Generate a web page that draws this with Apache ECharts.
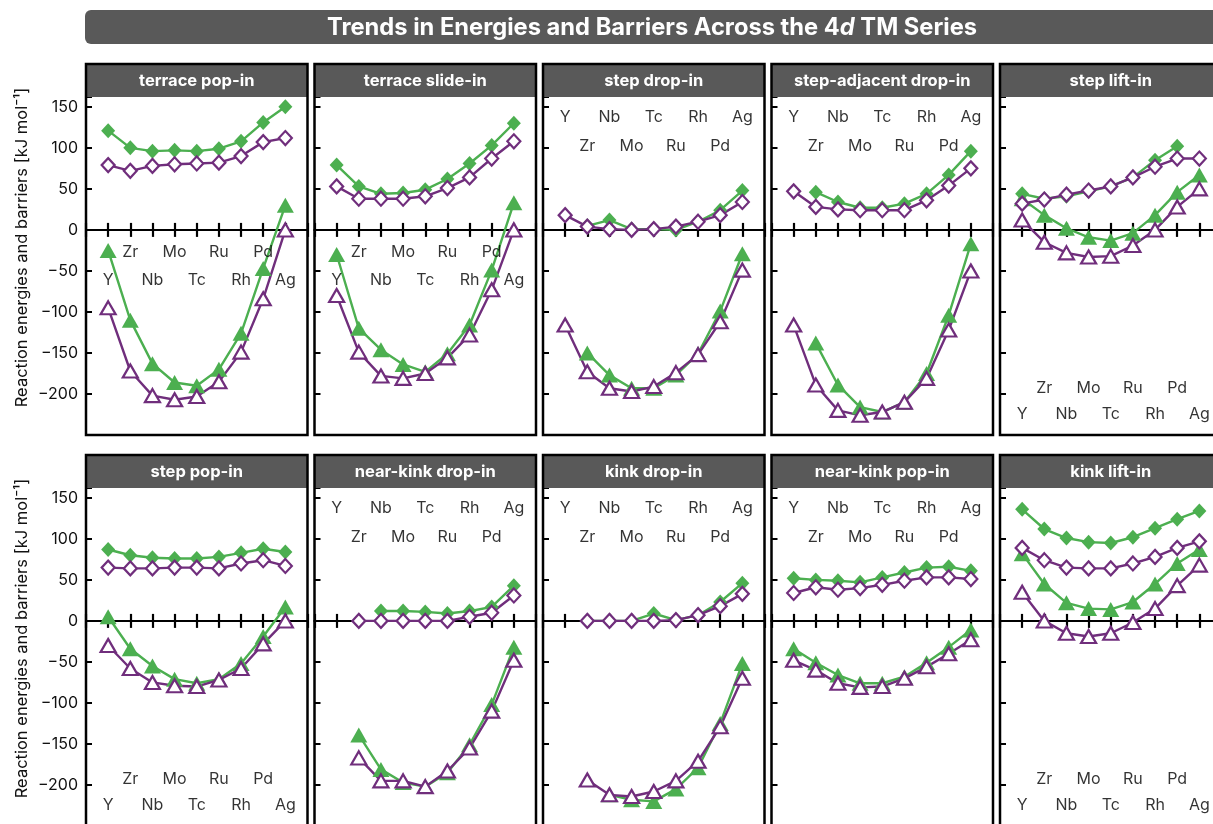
<!DOCTYPE html>
<html>
<head>
<meta charset="utf-8">
<script src="https://cdn.jsdelivr.net/npm/echarts@6/dist/echarts.min.js"></script>
<style>
  html, body { margin: 0; padding: 0; background: #ffffff; }
  #chart { width: 1213px; height: 824px; }
</style>
</head>
<body>
<div id="chart"></div>
<script>
// 4d transition metals along the x axis
const elements = ['Y', 'Zr', 'Nb', 'Mo', 'Tc', 'Ru', 'Rh', 'Pd', 'Ag'];

// One panel per insertion mechanism (row-major, 5 per row)
const panelTitles = [
  'terrace pop-in', 'terrace slide-in', 'step drop-in', 'step-adjacent drop-in', 'step lift-in',
  'step pop-in', 'near-kink drop-in', 'kink drop-in', 'near-kink pop-in', 'kink lift-in'
];

// y-axis tick values (kJ/mol)
const yTickValues = [-200, -150, -100, -50, 0, 50, 100, 150];

// Barriers, green filled diamonds (one row per panel, Y..Ag)
const barrierGreen = [
  [121, 100, 96, 97, 96, 99, 108, 131, 150],
  [79, 53, 44, 45, 49, 62, 81, 103, 130],
  [null, 5, 12, 1, 1, 0, 10, 24, 48],
  [null, 46, 34, 27, 27, 32, 44, 67, 96],
  [44, 38, 41, 47, 53, 64, 85, 102, null],
  [87, 80, 77, 76, 76, 78, 83, 88, 84],
  [null, null, 12, 12, 11, 9, 12, 17, 43],
  [null, 0, 0, 0, 9, 1, 7, 23, 46],
  [52, 50, 49, 47, 53, 59, 65, 66, 61],
  [136, 112, 101, 96, 95, 102, 113, 124, 134]
];

// Barriers, purple open diamonds
const barrierPurple = [
  [79, 72, 78, 80, 81, 82, 90, 107, 112],
  [53, 38, 38, 38, 41, 51, 64, 87, 108],
  [18, 4, 1, 0, 1, 4, 10, 18, 34],
  [47, 28, 25, 24, 24, 24, 36, 54, 75],
  [32, 37, 43, 48, 53, 64, 77, 87, 87],
  [65, 64, 64, 65, 65, 64, 70, 74, 67],
  [null, 0, 0, 0, 0, 0, 5, 10, 31],
  [null, 0, 0, 0, 0, 1, 7, 18, 33],
  [34, 41, 38, 40, 44, 49, 53, 53, 51],
  [89, 74, 65, 64, 64, 70, 78, 89, 97]
];

// Reaction energies, green filled triangles
const energyGreen = [
  [-25, -110, -163, -186, -190, -170, -126, -47, 30],
  [-30, -120, -146, -164, -173, -151, -116, -49, 33],
  [null, -150, -177, -193, -193, -177, -151, -99, -29],
  [null, -138, -189, -216, -222, -210, -175, -104, -17],
  [38, 18, 2, -9, -13, -4, 18, 46, 67],
  [5, -34, -55, -71, -76, -71, -52, -19, 17],
  [null, -139, -181, -197, -202, -185, -151, -102, -32],
  [null, null, -212, -218, -220, -205, -179, -125, -52],
  [-34, -51, -66, -76, -76, -68, -51, -32, -11],
  [82, 45, 22, 15, 14, 23, 45, 70, 87]
];

// Reaction energies, purple open triangles
const energyPurple = [
  [-95, -172, -202, -207, -203, -185, -149, -84, 0],
  [-80, -149, -178, -181, -175, -156, -128, -73, 0],
  [-116, -173, -193, -197, -191, -174, -152, -112, -49],
  [-116, -189, -220, -226, -222, -210, -181, -122, -50],
  [12, -15, -28, -33, -32, -19, 0, 28, 50],
  [-30, -58, -75, -79, -80, -72, -58, -28, 0],
  [null, -167, -195, -195, -202, -183, -155, -110, -48],
  [null, -194, -212, -214, -208, -195, -171, -129, -70],
  [-48, -60, -76, -81, -80, -70, -56, -40, -23],
  [35, 0, -15, -19, -15, -2, 15, 43, 68]
];

// Where the element names sit in each panel
const labelBand = ['mid', 'mid', 'top', 'top', 'bottom', 'bottom', 'top', 'top', 'top', 'bottom'];
// y (data units) for [Y/Nb/Tc/Rh/Ag row, Zr/Mo/Ru/Pd row]
const bandY = { mid: [-61, -27], top: [137, 102], bottom: [-225, -193] };

const GREEN = '#4caf50';
const PURPLE = '#702e7c';
const FONT = 'Inter';

const Y_MIN = -250, Y_MAX = 162;
const PANEL_LEFT = 86, PANEL_PITCH = 228.5, PANEL_W = 221.5;
const ROW_TOP = [64, 455], HEADER_H = 33, PLOT_H = 338;

const grids = [], xAxes = [], yAxes = [], series = [], graphics = [];

const fmtY = v => (yTickValues.indexOf(v) >= 0 ? String(v).replace('-', '\u2212') : '');

panelTitles.forEach((title, p) => {
  const row = Math.floor(p / 5), col = p % 5;
  const left = PANEL_LEFT + col * PANEL_PITCH;
  const top = ROW_TOP[row] + HEADER_H;

  grids.push({ left, top, width: PANEL_W, height: PLOT_H, containLabel: false, outerBoundsMode: 'none' });

  // two x axes sharing the zero line so the ticks cross it
  ['bottom', 'top'].forEach((pos) => {
    xAxes.push({
      type: 'value', gridIndex: p, position: pos, min: 0, max: 10, interval: 1,
      axisLine: { show: true, onZero: true, onZeroAxisIndex: p, lineStyle: { color: '#000', width: 2 } },
      axisTick: { show: true, inside: false, length: 7, lineStyle: { color: '#000', width: 2.2 } },
      axisLabel: { show: false }, splitLine: { show: false }
    });
  });

  yAxes.push({
    type: 'value', gridIndex: p, min: Y_MIN, max: Y_MAX, interval: 50,
    axisLine: { show: false },
    axisTick: { show: true, inside: true, length: 6, lineStyle: { color: '#000', width: 2 } },
    axisLabel: {
      show: col === 0, formatter: fmtY, fontFamily: FONT, fontSize: 16, color: '#111', margin: 8
    },
    splitLine: { show: false }
  });

  const pts = arr => arr.map((v, i) => [i + 1, v]);
  const line = (vals, color, symbol, size, filled) => ({
    type: 'line', xAxisIndex: 2 * p, yAxisIndex: p, data: pts(vals),
    symbol, symbolSize: size, showSymbol: true, connectNulls: false,
    lineStyle: { color, width: 2.4 },
    itemStyle: filled ? { color, borderWidth: 0 } : { color: '#fff', borderColor: color, borderWidth: 2.2 },
    silent: true, animation: false
  });

  series.push(line(barrierGreen[p], GREEN, 'diamond', [14, 15], true));
  series.push(line(energyGreen[p], GREEN, 'triangle', [17, 15], true));
  series.push(line(barrierPurple[p], PURPLE, 'diamond', [13, 14], false));
  series.push(line(energyPurple[p], PURPLE, 'triangle', [15, 13], false));

  // element names
  const band = bandY[labelBand[p]];
  series.push({
    type: 'scatter', xAxisIndex: 2 * p, yAxisIndex: p, silent: true, animation: false,
    symbolSize: 1, itemStyle: { color: 'transparent' },
    data: elements.map((el, i) => ({ name: el, value: [i + 1, band[i % 2]] })),
    label: {
      show: true, position: 'inside', formatter: d => d.name,
      fontFamily: FONT, fontSize: 16, color: '#000'
    },
    z: 5
  });

  // panel header and outline
  graphics.push({
    type: 'rect', z: 100, silent: true,
    shape: { x: left, y: ROW_TOP[row], width: PANEL_W, height: HEADER_H },
    style: { fill: '#595959' }
  });
  graphics.push({
    type: 'text', z: 101, silent: true,
    x: left + PANEL_W / 2, y: ROW_TOP[row] + HEADER_H / 2 + 0.5,
    style: {
      text: title, fill: '#fff', font: `bold 16.5px ${FONT}`,
      textAlign: 'center', textVerticalAlign: 'middle'
    }
  });
  graphics.push({
    type: 'rect', z: 102, silent: true,
    shape: { x: left, y: ROW_TOP[row], width: PANEL_W, height: HEADER_H + PLOT_H },
    style: { fill: 'none', stroke: '#000', lineWidth: 2.5 }
  });
});

// y-axis titles, one per row
[0, 1].forEach(row => {
  graphics.push({
    type: 'text', z: 101, silent: true,
    x: 22, y: ROW_TOP[row] + (HEADER_H + PLOT_H) / 2 - 2, rotation: Math.PI / 2,
    style: {
      text: 'Reaction energies and barriers [kJ mol\u207B\u00B9]', fill: '#111',
      font: `16.5px ${FONT}`, textAlign: 'center', textVerticalAlign: 'middle'
    }
  });
});

// figure title bar
graphics.push({
  type: 'rect', z: 100, silent: true,
  shape: { x: 85, y: 10, width: 1150, height: 34, r: 6 },
  style: { fill: '#595959' }
});
graphics.push({
  type: 'text', z: 101, silent: true,
  x: 652, y: 27.5,
  style: {
    text: '{b|Trends in Energies and Barriers Across the 4}{i|d}{b| TM Series}',
    rich: {
      b: { font: `bold 23.7px ${FONT}`, fill: '#fff' },
      i: { font: `italic bold 23.7px ${FONT}`, fill: '#fff' }
    },
    textAlign: 'center', textVerticalAlign: 'middle'
  }
});

const chart = echarts.init(document.getElementById('chart'), null, { renderer: 'canvas' });
chart.setOption({
  backgroundColor: '#ffffff',
  animation: false,
  grid: grids,
  xAxis: xAxes,
  yAxis: yAxes,
  series,
  graphic: graphics
});
</script>
</body>
</html>
